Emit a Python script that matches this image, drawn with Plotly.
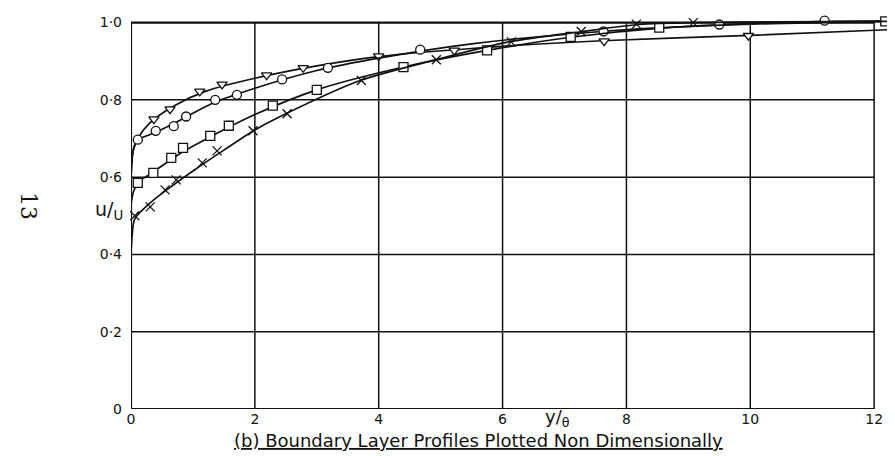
import plotly.graph_objects as go

# ---- data ----
# measured points (markers)
tri_x = [0.37, 0.63, 1.11, 1.47, 2.19, 2.78, 4.0, 5.22, 7.64, 9.97, 12.42]
tri_y = [0.750, 0.776, 0.822, 0.840, 0.864, 0.883, 0.913, 0.928, 0.952, 0.966, 0.982]
cir_x = [0.11, 0.40, 0.69, 0.89, 1.36, 1.71, 2.44, 3.18, 4.67, 7.63, 9.50, 11.20]
cir_y = [0.697, 0.720, 0.732, 0.757, 0.800, 0.813, 0.853, 0.883, 0.930, 0.977, 0.995, 1.005]
sq_x = [0.11, 0.36, 0.65, 0.84, 1.28, 1.58, 2.29, 3.00, 4.40, 5.75, 7.10, 8.53, 12.18]
sq_y = [0.585, 0.611, 0.650, 0.676, 0.707, 0.733, 0.785, 0.826, 0.885, 0.928, 0.963, 0.987, 1.003]
crs_x = [0.06, 0.31, 0.55, 0.73, 1.15, 1.39, 1.97, 2.52, 3.72, 4.93, 6.14, 7.27, 8.16, 9.08]
crs_y = [0.500, 0.523, 0.567, 0.593, 0.637, 0.668, 0.720, 0.764, 0.850, 0.904, 0.950, 0.977, 0.996, 1.000]

# hand-faired curves
tri_fx = [0, 0.03, 0.10, 0.30, 0.70, 1.20, 2.00, 3.00, 4.00, 5.50, 7.60, 10.0, 12.45]
tri_fy = [0.60, 0.665, 0.698, 0.740, 0.785, 0.822, 0.856, 0.888, 0.912, 0.933, 0.953, 0.967, 0.983]
cir_fx = [0, 0.04, 0.11, 0.40, 0.80, 1.30, 2.00, 3.00, 4.00, 5.50, 7.60, 9.50, 11.2, 12.45]
cir_fy = [0.60, 0.672, 0.696, 0.716, 0.748, 0.790, 0.830, 0.876, 0.908, 0.945, 0.977, 0.994, 1.003, 1.005]
sq_fx = [0, 0.04, 0.11, 0.40, 0.80, 1.30, 2.00, 3.00, 4.40, 5.75, 7.10, 8.50, 10.0, 12.45]
sq_fy = [0.53, 0.562, 0.585, 0.618, 0.662, 0.706, 0.762, 0.826, 0.885, 0.928, 0.962, 0.985, 0.996, 1.003]
crs_fx = [0, 0.02, 0.06, 0.30, 0.60, 1.00, 1.50, 2.00, 2.50, 3.70, 4.90, 6.10, 7.30, 8.20, 9.10, 12.45]
crs_fy = [0.40, 0.452, 0.492, 0.532, 0.570, 0.616, 0.670, 0.722, 0.764, 0.850, 0.903, 0.950, 0.977, 0.995, 1.000, 1.003]

x_ticks = [0, 2, 4, 6, 8, 10, 12]
x_labels = ["0", "2", "4", "6", "8", "10", "12"]
y_ticks = [0, 0.2, 0.4, 0.6, 0.8, 1.0]
y_labels = ["0", "0·2", "0·4", "0·6", "0·8", "1·0"]

INK = "#111111"
FONT = "DejaVu Sans"

fig = go.Figure()

series = [
    (tri_fx, tri_fy, tri_x, tri_y, "triangle-down"),
    (cir_fx, cir_fy, cir_x, cir_y, "circle"),
    (sq_fx, sq_fy, sq_x, sq_y, "square"),
    (crs_fx, crs_fy, crs_x, crs_y, "x-thin"),
]
for fx, fy, mx, my, sym in series:
    fig.add_trace(go.Scatter(
        x=fx, y=fy, mode="lines",
        line=dict(color=INK, width=1.7, shape="spline", smoothing=0.8),
        hoverinfo="skip", showlegend=False))
    fig.add_trace(go.Scatter(
        x=mx, y=my, mode="markers", cliponaxis=False,
        marker=dict(symbol=sym, size=9, color="white" if sym != "x-thin" else INK,
                    line=dict(color=INK, width=1.3)),
        showlegend=False))

shapes = []
for yv in y_ticks:
    shapes.append(dict(type="line", xref="x", yref="y", x0=0, x1=12, y0=yv, y1=yv,
                       line=dict(color=INK, width=2.2 if yv in (0, 1.0) else 1.5), layer="below"))
for xv in x_ticks:
    shapes.append(dict(type="line", xref="x", yref="y", x0=xv, x1=xv, y0=0, y1=1.0,
                       line=dict(color=INK, width=2.2 if xv == 0 else 1.5), layer="below"))

L, R, T, B = 123, 1, 3, 55
W, H = 895, 456
pw, ph = W - L - R, H - T - B


def px(xp):
    return (xp - L) / pw


def py(yp):
    return (H - B - yp) / ph


def label(text, xp, yp, size, family=FONT, angle=0):
    return dict(text=text, x=px(xp), y=py(yp), xref="paper", yref="paper",
                xanchor="center", yanchor="middle", textangle=angle,
                showarrow=False, font=dict(size=size, family=family, color=INK))


fig.update_layout(
    width=W, height=H,
    margin=dict(l=L, r=R, t=T, b=B),
    paper_bgcolor="white", plot_bgcolor="white",
    shapes=shapes,
    font=dict(family=FONT, color=INK, size=13),
    xaxis=dict(range=[0, 12.45], tickvals=x_ticks, ticktext=x_labels,
               showgrid=False, zeroline=False, showline=False, ticks="",
               ticklabelstandoff=0, tickfont=dict(size=14, family=FONT)),
    yaxis=dict(range=[0, 1.03], tickvals=y_ticks, ticktext=y_labels,
               showgrid=False, zeroline=False, showline=False, ticks="",
               ticklabelstandoff=8, tickfont=dict(size=14, family=FONT)),
    annotations=[
        label("u/<sub>U</sub>", 101, 203, 19),
        label("y/<sub>θ</sub>", 549, 410, 18),
        label("<u>(b) Boundary Layer Profiles Plotted Non Dimensionally</u>", 470, 433, 18),
        label("13", 20, 198, 22, family="DejaVu Serif", angle=90),
    ],
)

fig.write_html("out.html")
